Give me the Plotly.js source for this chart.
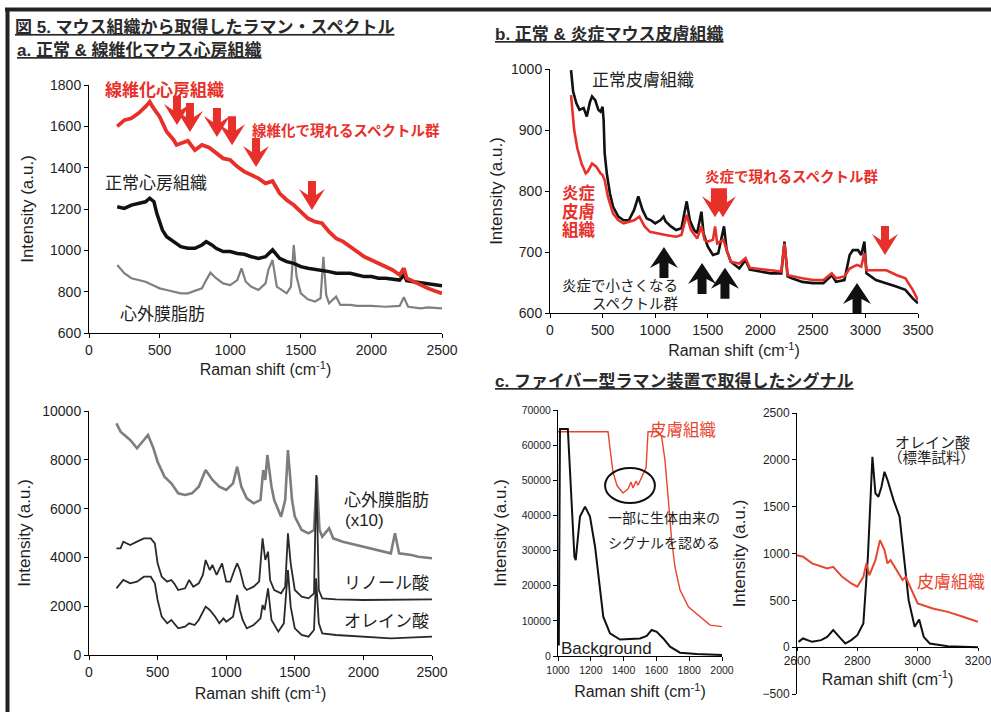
<!DOCTYPE html>
<html><head><meta charset="utf-8">
<script src="https://cdn.plot.ly/plotly-3.0.1.min.js"></script>
<style>html,body{margin:0;padding:0;background:#fff;}#chart{width:991px;height:712px;}</style>
</head><body><div id="chart"></div>
<script>
// ---------- a (top): heart tissue spectra ----------
const aFibX = [200,250,300,350,400,430,450,500,550,600,620,650,700,750,800,850,900,950,1000,1050,1100,1150,1200,1250,1300,1350,1400,1450,1500,1550,1600,1650,1700,1750,1800,1850,1900,1950,2000,2050,2100,2150,2200,2230,2250,2300,2350,2400,2450,2500];
const aFibY = [1600,1630,1639,1663,1695,1719,1695,1647,1574,1534,1510,1518,1530,1485,1510,1498,1469,1445,1437,1405,1381,1365,1348,1324,1335,1276,1244,1219,1187,1155,1139,1131,1090,1058,1042,1018,994,969,953,937,921,905,881,913,865,848,832,816,803,792];
const aNormX = [200,250,300,350,400,430,460,480,500,520,550,600,650,700,750,800,830,870,900,950,1000,1050,1100,1150,1200,1250,1300,1350,1400,1450,1500,1550,1600,1650,1700,1750,1800,1850,1900,1950,2000,2050,2100,2150,2200,2230,2250,2300,2350,2400,2450,2500];
const aNormY = [1211,1203,1219,1227,1235,1252,1235,1179,1131,1098,1066,1042,1018,1010,1010,1026,1042,1026,1010,994,994,985,981,969,961,969,1002,961,945,937,921,913,908,905,897,889,889,889,881,873,873,865,865,860,856,881,853,848,844,840,832,829];
const aFatX = [200,220,250,300,350,400,450,500,550,600,650,700,750,800,830,860,900,950,1000,1050,1080,1110,1150,1200,1250,1270,1300,1330,1400,1430,1450,1470,1500,1550,1600,1640,1660,1680,1700,1750,1780,1850,1900,2000,2100,2200,2230,2260,2350,2400,2500];
const aFatY = [929,913,889,865,856,848,832,816,808,800,792,792,803,816,856,892,865,840,832,856,913,848,824,808,840,905,953,824,792,824,1026,873,792,763,752,768,969,784,744,776,736,736,731,731,727,731,773,727,719,724,719];

// ---------- a (bottom): fat and fatty acid standards ----------
const bFatX = [200,230,300,350,400,430,470,500,550,600,650,700,750,800,850,900,950,1000,1050,1080,1110,1150,1200,1250,1270,1285,1300,1330,1350,1400,1430,1450,1480,1500,1550,1600,1640,1660,1680,1700,1750,1780,1850,1900,2000,2100,2200,2230,2260,2350,2400,2500];
const bFatY = [9495,9153,8811,8470,8811,9016,8470,7923,7309,7035,6626,6557,6626,6899,7582,7172,6899,6762,7035,7719,6899,6421,6216,6352,7582,7172,8197,6899,6352,5669,6352,8402,6352,5669,5123,4986,5123,7309,5123,4850,5191,4781,4645,4577,4440,4303,4167,4986,4167,4098,4030,3962];
const linX = [200,230,250,300,350,400,450,480,500,530,570,600,620,650,700,730,760,800,830,850,880,900,930,970,1000,1030,1060,1080,1100,1130,1150,1200,1240,1265,1285,1305,1320,1350,1400,1430,1450,1470,1500,1550,1600,1640,1657,1675,1700,1800,2000,2200,2500];
const linY = [4372,4372,4645,4508,4645,4781,4781,4577,3757,3210,3005,3074,2937,2664,2732,3074,2801,2937,3279,3893,3484,3689,3279,3757,3005,3005,3484,3757,3484,2801,2664,2801,3005,4781,3893,4235,3074,2664,2527,2801,4986,3757,2664,2391,2322,2527,7377,2664,2322,2281,2254,2254,2281];
const oleX = [200,250,300,350,400,450,480,500,530,570,600,650,700,730,770,800,850,880,920,950,980,1000,1050,1080,1100,1120,1150,1200,1250,1265,1280,1305,1330,1380,1420,1440,1450,1470,1500,1550,1600,1640,1655,1675,1700,1800,2000,2200,2500];
const oleY = [2732,3074,2937,3005,3210,3210,2937,2254,1571,1298,1434,1093,1161,1298,1230,1434,1981,1844,1571,1298,1503,1366,1571,2459,1844,1434,1093,1230,1503,2049,1844,2732,1434,956,1298,2801,3484,1981,1093,820,751,1025,3142,1298,888,820,751,683,751];

// ---------- b: skin tissue ----------
const skinNX = [200,220,250,280,320,350,380,400,430,460,480,500,510,520,540,570,600,650,700,750,800,840,880,920,960,1000,1050,1080,1100,1150,1200,1250,1300,1330,1370,1400,1440,1460,1500,1550,1600,1630,1655,1680,1720,1800,1860,1900,2000,2100,2200,2230,2260,2300,2400,2500,2600,2680,2720,2800,2850,2880,2930,2960,2990,3010,3100,3200,3300,3380,3450,3500];
const skinNY = [998,963,944,933,936,922,946,955,949,933,930,938,916,862,829,796,774,758,752,752,769,791,769,755,752,747,752,758,750,742,736,739,783,752,736,731,766,731,709,695,698,720,742,703,684,673,687,671,668,665,665,717,660,657,651,649,649,662,651,654,695,703,703,695,717,665,654,649,643,638,624,616];
const skinIX = [200,230,260,300,340,360,400,440,480,500,520,550,600,650,700,750,800,850,900,950,1000,1100,1200,1250,1300,1340,1400,1440,1470,1500,1550,1570,1590,1650,1680,1720,1800,1860,1900,2000,2100,2200,2230,2260,2400,2500,2600,2680,2720,2800,2850,2920,2960,2990,3010,3100,3200,3300,3380,3450,3500];
const skinIY = [957,900,870,845,829,832,845,840,829,826,818,791,763,752,747,750,752,758,742,733,731,728,725,728,761,736,722,742,720,717,720,742,714,720,703,684,681,690,674,672,670,668,714,662,657,654,654,665,657,660,673,679,676,698,670,670,670,662,657,638,621];

// ---------- c: fiber Raman ----------
const cSkinX = [1000,1305,1320,1335,1360,1396,1427,1445,1457,1476,1488,1518,1537,1549,1610,1632,1652,1673,1693,1713,1744,1795,1866,1927,2000];
const cSkinY = [63800,63800,58000,52400,48500,46400,47500,49500,47800,49800,48600,51500,53600,63800,63800,62400,55800,44400,33000,25400,18800,14000,11200,8800,8350];
const cBgX = [1005,1012,1060,1069,1085,1100,1108,1134,1165,1195,1226,1246,1276,1317,1378,1500,1541,1571,1602,1642,1683,1744,1846,2000];
const cBgY = [3000,64600,64600,55800,40000,28300,27300,39700,42500,39700,31100,22600,11200,6450,4700,5000,5700,7400,6900,5000,2650,950,570,285];
const dOleX = [2605,2620,2650,2680,2700,2720,2740,2760,2780,2800,2820,2835,2845,2850,2860,2870,2880,2890,2900,2920,2940,2950,2970,2990,3005,3020,3040,3100,3200];
const dOleY = [57,93,57,75,110,182,110,39,75,128,253,965,1677,2033,1642,1606,1713,1873,1784,1570,1392,1107,502,217,296,110,39,11,0];
const dSkinX = [2600,2620,2650,2700,2720,2750,2780,2800,2820,2830,2840,2860,2875,2890,2900,2910,2930,2950,2960,2980,3000,3050,3100,3150,3200];
const dSkinY = [983,965,894,840,858,751,680,645,751,894,769,929,1143,1036,894,929,823,716,751,609,467,413,377,324,271];

// marker positions (Raman shift, intensity) that the arrows point at
const fibArrowX = [623,715,906,1013,1183,1579];
const fibArrowY = [1606,1572,1548,1509,1403,1195];
const inflUpX = [1569,1645,3186];
const inflUpY = [757,757,695];
const inflDownX = [1084,1446,1664,2920];
const inflDownY = [708,682,674,649];

const W = 991, H = 712;
const RED = '#e8302a', TXT = '#1e1e1e';
const JP = '"Liberation Sans", Arial, "Noto Sans CJK JP", sans-serif';
const dx = (a, b) => [a / W, b / W];
const dy = (t, b) => [1 - b / H, 1 - t / H];

function tr(x, y, xa, ya, color, width) {
  return {x: x, y: y, xaxis: xa, yaxis: ya, type: 'scatter', mode: 'lines',
          line: {color: color, width: width}, hoverinfo: 'skip', showlegend: false};
}
const data = [
  tr(aFatX, aFatY, 'x', 'y', '#808080', 2.2),
  tr(aNormX, aNormY, 'x', 'y', '#111', 3.5),
  tr(aFibX, aFibY, 'x', 'y', RED, 3.8),
  tr(bFatX, bFatY, 'x2', 'y2', '#7d7d7d', 2.6),
  tr(linX, linY, 'x2', 'y2', '#2a2a2a', 1.8),
  tr(oleX, oleY, 'x2', 'y2', '#2a2a2a', 1.8),
  tr(skinNX, skinNY, 'x3', 'y3', '#111', 2.6),
  tr(skinIX, skinIY, 'x3', 'y3', RED, 2.6),
  tr(cSkinX, cSkinY, 'x4', 'y4', '#e8452f', 1.4),
  tr(cBgX, cBgY, 'x4', 'y4', '#111', 2),
  tr(dOleX, dOleY, 'x5', 'y5', '#111', 2),
  tr(dSkinX, dSkinY, 'x5', 'y5', '#e8452f', 2)
];

function ax(o, tsize, title, tfsize, standoff) {
  return Object.assign({
    showline: true, linecolor: '#000', linewidth: 1, ticks: 'outside', ticklen: 4,
    tickcolor: '#000', showgrid: false, zeroline: false, fixedrange: true,
    tickformat: 'd', exponentformat: 'none', separatethousands: false,
    tickfont: {family: JP, size: tsize, color: TXT},
    title: {text: title, font: {family: JP, size: tfsize, color: TXT}, standoff: standoff}
  }, o);
}
const XT = 'Raman shift (cm<sup>-1</sup>)', YT = 'Intensity (a.u.)';

function T(text, px, py, size, color, weight, extra) {
  return Object.assign({xref: 'paper', yref: 'paper', x: px / W, y: 1 - py / H,
    xanchor: 'left', yanchor: 'middle', showarrow: false, text: text,
    font: {family: JP, size: size, color: color || TXT, weight: weight || 'normal'}}, extra || {});
}
const HEAD = {family: JP, size: 17, color: '#2a2a2a', weight: 'bold', lineposition: 'under'};

const annotations = [
  Object.assign(T('a. 正常 &amp; 線維化マウス心房組織', 15, 50, 17), {font: HEAD}),
  Object.assign(T('b. 正常 &amp; 炎症マウス皮膚組織', 493, 34, 17), {font: HEAD}),
  Object.assign(T('c. ファイバー型ラマン装置で取得したシグナル', 493, 381, 17), {font: HEAD}),
  T('線維化心房組織', 103, 90, 17, RED, 'bold'),
  T('線維化で現れるスペクトル群', 250, 131, 14.5, RED, 'bold'),
  T('正常心房組織', 103, 183, 17),
  T('心外膜脂肪', 118, 315, 17),
  T('心外膜脂肪', 342, 500, 17),
  T('(x10)', 343, 520, 17),
  T('リノール酸', 342, 583, 17),
  T('オレイン酸', 342, 621, 17),
  T('正常皮膚組織', 590, 81, 17),
  T('炎症', 560, 193, 16.5, RED, 'bold'),
  T('皮膚', 560, 212, 16.5, RED, 'bold'),
  T('組織', 560, 230, 16.5, RED, 'bold'),
  T('炎症で現れるスペクトル群', 703, 177, 14.5, RED, 'bold'),
  T('炎症で小さくなる', 560, 286, 14.5),
  T('スペクトル群', 590, 304, 14.5),
  T('皮膚組織', 648, 430, 16.5, '#e8452f'),
  T('一部に生体由来の', 606, 518, 14),
  T('シグナルを認める', 606, 543, 14),
  T('Background', 559, 648, 17),
  T('オレイン酸', 893, 442, 15),
  T('（標準試料）', 886, 458, 14.5),
  T('皮膚組織', 915, 582, 17, '#e8452f')
];

// block arrows drawn as pixel-sized paths anchored at data points
const DOWN = 'M0,0 L-13,21 L-4,15 L-4,29 L4,29 L4,15 L13,21 Z';
const UP = 'M0,0 L-14,-21 L-4.5,-16 L-4.5,-31 L4.5,-31 L4.5,-16 L14,-21 Z';
function arrowShape(xa, ya, x, y, path, color) {
  return {type: 'path', xref: xa, yref: ya, xsizemode: 'pixel', ysizemode: 'pixel',
          xanchor: x, yanchor: y, path: path, fillcolor: color, line: {width: 0}};
}

const shapes = [
  {type: 'line', xref: 'paper', yref: 'paper', x0: 5 / W, x1: 1, y0: 1 - 9.5 / H, y1: 1 - 9.5 / H, line: {color: '#222', width: 4}},
  {type: 'line', xref: 'paper', yref: 'paper', x0: 7.5 / W, x1: 7.5 / W, y0: 0, y1: 1 - 8 / H, line: {color: '#222', width: 4}},
  {type: 'circle', xref: 'x4', yref: 'y4', x0: 1287, x1: 1591, y0: 43540, y1: 53500, line: {color: '#111', width: 2}}
];
fibArrowX.forEach((x, i) => shapes.push(arrowShape('x', 'y', x, fibArrowY[i], DOWN, RED)));
inflUpX.forEach((x, i) => shapes.push(arrowShape('x3', 'y3', x, inflUpY[i], DOWN, RED)));
inflDownX.forEach((x, i) => shapes.push(arrowShape('x3', 'y3', x, inflDownY[i], UP, '#111')));

const layout = {
  width: W, height: H, margin: {l: 0, r: 0, t: 0, b: 0},
  paper_bgcolor: '#fff', plot_bgcolor: 'rgba(0,0,0,0)',
  font: {family: JP, color: TXT},
  showlegend: false,
  title: {text: '図 5. マウス組織から取得したラマン・スペクトル', xref: 'paper', yref: 'paper',
          x: 15 / W, xanchor: 'left', y: 1 - 27 / H, yanchor: 'middle', font: HEAD},
  xaxis: ax({domain: dx(89, 442), range: [0, 2500], dtick: 500, anchor: 'y'}, 14, XT, 16, 7),
  yaxis: ax({domain: dy(85, 333), range: [600, 1800], dtick: 200, anchor: 'x'}, 14, YT, 17, 12),
  xaxis2: ax({domain: dx(89, 432), range: [0, 2500], dtick: 500, anchor: 'y2'}, 14, XT, 16, 9),
  yaxis2: ax({domain: dy(411, 655), range: [0, 10000], dtick: 2000, anchor: 'x2'}, 14, YT, 17, 7),
  xaxis3: ax({domain: dx(550, 918), range: [0, 3500], dtick: 500, anchor: 'y3'}, 14, XT, 16, 8),
  yaxis3: ax({domain: dy(69, 313), range: [600, 1000], dtick: 100, anchor: 'x3'}, 14, YT, 17, 4),
  xaxis4: ax({domain: dx(558, 722), range: [1000, 2000], dtick: 200, anchor: 'y4'}, 10.5, XT, 16, 11),
  yaxis4: ax({domain: dy(410, 656), range: [0, 70000], dtick: 10000, anchor: 'x4'}, 10.5, YT, 17, 10),
  xaxis5: ax({domain: dx(797, 978), range: [2600, 3200], dtick: 200, anchor: 'free', position: 1 - 647 / H, ticklen: 3, ticklabeloverflow: 'allow'}, 12, XT, 16, 2),
  yaxis5: ax({domain: dy(413, 694), range: [-500, 2500], dtick: 500, anchor: 'x5'}, 12, YT, 17, 12),
  annotations: annotations,
  shapes: shapes
};

Plotly.newPlot('chart', data, layout, {staticPlot: true, displayModeBar: false});
</script>
</body></html>
